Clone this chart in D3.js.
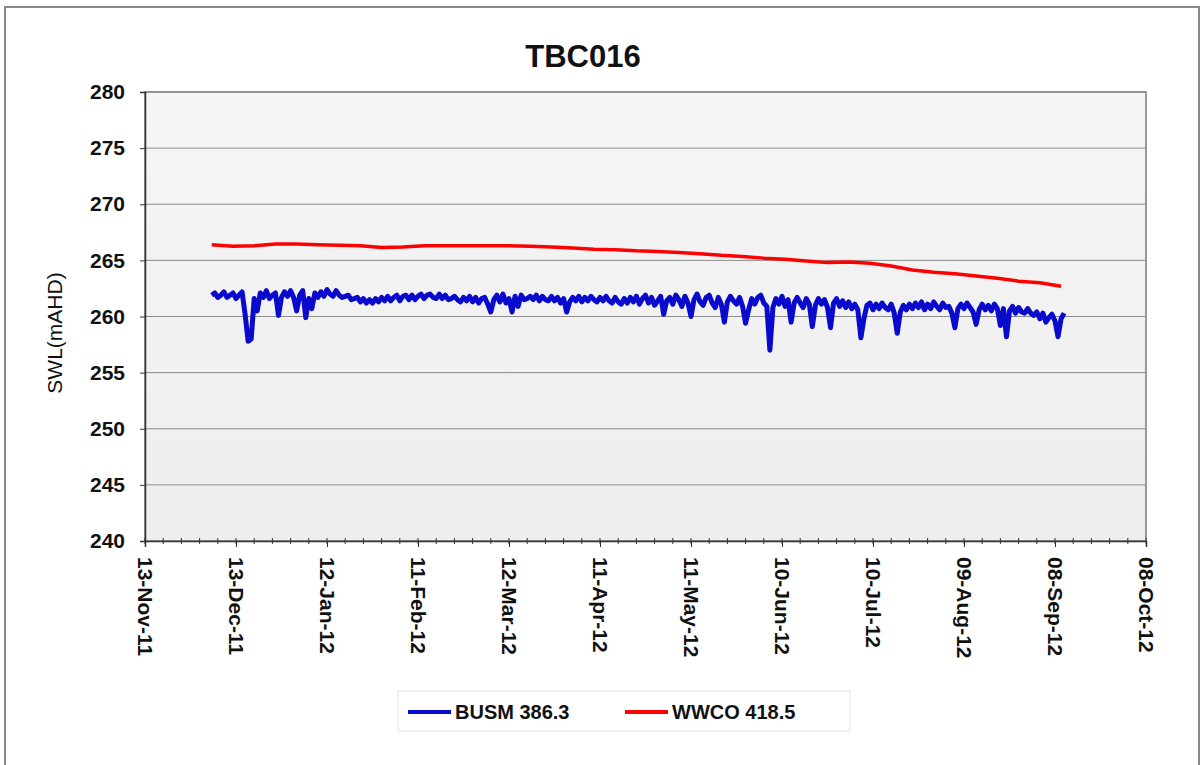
<!DOCTYPE html>
<html>
<head>
<meta charset="utf-8">
<script src="https://cdn.jsdelivr.net/npm/d3@7"></script>
<style>
  body { margin: 0; background: #fff; }
  svg { display: block; font-family: "Liberation Sans", Arial, sans-serif; }
</style>
</head>
<body>
<div id="chart"></div>
<script>
// chart data
const title = "TBC016";
const yLabel = "SWL(mAHD)";
const yTicks = [240, 245, 250, 255, 260, 265, 270, 275, 280];
const xTickLabels = ["13-Nov-11", "13-Dec-11", "12-Jan-12", "11-Feb-12", "12-Mar-12", "11-Apr-12",
    "11-May-12", "10-Jun-12", "10-Jul-12", "09-Aug-12", "08-Sep-12", "08-Oct-12"];
const seriesNames = ["BUSM 386.3", "WWCO 418.5"];

// BUSM: daily readings from 05-Dec-11
const busmStart = "05-Dec-11";
const busmValues = [
    261.9, 262.1, 261.7, 261.9, 262.2, 261.7, 261.9, 262.1, 261.6, 261.9,
    262.2, 260.2, 257.8, 258.0, 261.6, 260.5, 262.1, 261.7, 262.3, 261.6,
    261.9, 262.1, 260.1, 261.7, 262.2, 261.8, 262.3, 261.7, 260.5, 261.9,
    262.3, 259.9, 261.6, 260.7, 262.1, 261.7, 262.2, 261.8, 262.4, 262.0,
    261.8, 262.3, 261.9, 261.7, 261.8, 261.9, 261.5, 261.6, 261.7, 261.3,
    261.6, 261.2, 261.5, 261.2, 261.6, 261.3, 261.7, 261.4, 261.8, 261.4,
    261.7, 261.9, 261.4, 261.8, 261.9, 261.5, 261.9, 261.5, 261.8, 262.0,
    261.6, 261.9, 262.0, 261.7, 261.6, 262.0, 261.6, 261.9, 261.5, 261.6,
    261.8, 261.5, 261.3, 261.7, 261.4, 261.8, 261.3, 261.7, 261.2, 261.6,
    261.7, 261.1, 260.4, 261.5, 261.9, 261.3, 262.0, 261.2, 261.6, 260.4,
    261.8, 260.9, 261.9, 261.5, 261.6, 261.8, 261.5, 261.9, 261.4, 261.8,
    261.5, 261.4, 261.8, 261.4, 261.7, 261.2, 261.6, 260.4, 261.3, 261.7,
    261.4, 261.8, 261.3, 261.7, 261.4, 261.8, 261.5, 261.3, 261.7, 261.4,
    261.8, 261.4, 261.2, 261.7, 261.3, 261.1, 261.6, 261.2, 261.7, 261.3,
    261.8, 261.1, 261.6, 261.9, 261.2, 261.7, 261.0, 261.4, 261.8, 260.2,
    261.4, 261.7, 261.1, 261.9, 261.5, 260.9, 261.8, 261.2, 260.0, 261.5,
    262.0, 261.3, 261.0, 261.7, 261.9, 261.2, 260.8, 261.7, 261.1, 259.5,
    261.3, 261.8, 261.4, 261.1, 261.7, 260.9, 259.4, 260.6, 261.6, 261.1,
    261.7, 261.9, 261.2, 260.9, 257.0, 260.8, 261.6, 261.1, 261.8, 260.9,
    261.5, 259.5, 261.2, 261.7, 261.2, 260.8, 261.6, 261.1, 259.1, 261.0,
    261.6, 261.1, 261.5, 260.8, 259.0, 261.2, 261.6, 260.9, 261.4, 260.8,
    261.3, 260.7, 261.1, 260.6, 258.1, 259.8, 261.0, 261.2, 260.6, 261.1,
    260.7, 261.2, 260.8, 260.6, 261.1, 260.3, 258.5, 260.4, 261.0, 260.6,
    261.1, 260.7, 261.2, 260.8, 261.3, 260.6, 261.1, 260.7, 261.3, 260.9,
    260.6, 261.2, 260.8, 260.9, 260.3, 259.0, 260.7, 261.1, 260.7, 261.2,
    260.8, 260.4, 259.3, 260.6, 261.1, 260.6, 261.0, 260.5, 261.1, 260.7,
    259.2, 260.7, 258.2, 260.5, 260.9, 260.3, 260.8, 260.4, 260.3, 260.7,
    260.3, 260.1, 260.4, 259.8, 260.3, 259.5, 259.9, 260.2, 259.6, 258.2,
    259.8, 260.3
];

// WWCO: weekly readings from 05-Dec-11
const wwcoStart = "05-Dec-11";
const wwcoValues = [
    266.4, 266.25, 266.3, 266.45, 266.45, 266.4, 266.35, 266.3, 266.15, 266.2,
    266.3, 266.3, 266.3, 266.3, 266.3, 266.25, 266.2, 266.1, 266.0, 265.95,
    265.85, 265.8, 265.7, 265.6, 265.45, 265.35, 265.2, 265.1, 264.95, 264.8,
    264.85, 264.75, 264.5, 264.15, 263.95, 263.8, 263.6, 263.4, 263.15, 263.0,
    262.7
];

const parseDate = d3.utcParse("%d-%b-%y");
const busm = busmValues.map((v, i) => ({ date: d3.utcDay.offset(parseDate(busmStart), i), value: v }));
const wwco = wwcoValues.map((v, i) => ({ date: d3.utcDay.offset(parseDate(wwcoStart), i * 7), value: v }));
const xTickDates = xTickLabels.map(parseDate);

const width = 1203, height = 765;
const plot = { left: 145, right: 1146, top: 92, bottom: 541 };

const svg = d3.select("#chart").append("svg")
    .attr("width", width)
    .attr("height", height);

// outer frame
svg.append("rect")
    .attr("x", 5).attr("y", 7)
    .attr("width", 1194).attr("height", 775)
    .attr("fill", "#fff")
    .attr("stroke", "#8a8a8a")
    .attr("stroke-width", 2);

const x = d3.scaleUtc()
    .domain([xTickDates[0], xTickDates[xTickDates.length - 1]])
    .range([plot.left, plot.right]);

const y = d3.scaleLinear()
    .domain([240, 280])
    .range([plot.bottom, plot.top]);

// plot background
const grad = svg.append("defs").append("linearGradient")
    .attr("id", "bg").attr("x1", 0).attr("y1", 0).attr("x2", 0).attr("y2", 1);
grad.append("stop").attr("offset", "0%").attr("stop-color", "#f5f5f5");
grad.append("stop").attr("offset", "100%").attr("stop-color", "#eeeeee");

svg.append("rect")
    .attr("x", plot.left).attr("y", plot.top)
    .attr("width", plot.right - plot.left).attr("height", plot.bottom - plot.top)
    .attr("fill", "url(#bg)")
    .attr("stroke", "#7a7a7a")
    .attr("stroke-width", 1.5);

// gridlines
svg.append("g")
    .selectAll("line")
    .data(yTicks.slice(1))
    .join("line")
    .attr("x1", plot.left).attr("x2", plot.right)
    .attr("y1", d => y(d)).attr("y2", d => y(d))
    .attr("stroke", "#8c8c8c")
    .attr("stroke-width", 1);

// y axis
const yAxis = svg.append("g")
    .attr("transform", "translate(" + plot.left + ",0)")
    .call(d3.axisLeft(y).tickValues(yTicks).tickSize(5).tickPadding(15));
yAxis.select(".domain").attr("stroke", "#333").attr("stroke-width", 1.5);
yAxis.selectAll(".tick line").attr("stroke", "#333");
yAxis.selectAll(".tick text")
    .attr("font-size", 21)
    .attr("font-weight", "bold")
    .attr("fill", "#111")
    .attr("font-family", "Liberation Sans, Arial, sans-serif");

// x axis minor ticks (every 6 days)
const minorDates = d3.utcDay.range(xTickDates[0], d3.utcDay.offset(xTickDates[xTickDates.length - 1], 1), 6);
svg.append("g")
    .selectAll("line")
    .data(minorDates)
    .join("line")
    .attr("x1", d => x(d)).attr("x2", d => x(d))
    .attr("y1", plot.bottom - 3).attr("y2", plot.bottom + 3)
    .attr("stroke", "#333");

// x axis major ticks and labels
const xAxis = svg.append("g")
    .attr("transform", "translate(0," + plot.bottom + ")")
    .call(d3.axisBottom(x).tickValues(xTickDates).tickSize(6).tickFormat((d, i) => xTickLabels[i]));
xAxis.select(".domain").attr("stroke", "#333").attr("stroke-width", 1.5);
xAxis.selectAll(".tick line").attr("stroke", "#333");
xAxis.selectAll(".tick text")
    .attr("font-size", 21)
    .attr("font-weight", "bold")
    .attr("fill", "#111")
    .attr("font-family", "Liberation Sans, Arial, sans-serif")
    .attr("transform", "rotate(90)")
    .attr("x", 16)
    .attr("y", 0)
    .attr("dy", "0.35em")
    .style("text-anchor", "start");

// lines
const line = d3.line()
    .x(d => x(d.date))
    .y(d => y(d.value));

svg.append("path")
    .datum(wwco)
    .attr("fill", "none")
    .attr("stroke", "#ff0000")
    .attr("stroke-width", 3.5)
    .attr("stroke-linejoin", "round")
    .attr("d", line);

svg.append("path")
    .datum(busm)
    .attr("fill", "none")
    .attr("stroke", "#0a0acc")
    .attr("stroke-width", 5)
    .attr("stroke-linejoin", "round")
    .attr("d", line);

// title
svg.append("text")
    .attr("x", 583).attr("y", 67)
    .attr("text-anchor", "middle")
    .attr("font-size", 31)
    .attr("font-weight", "bold")
    .attr("fill", "#111")
    .text(title);

// y axis title
svg.append("text")
    .attr("transform", "translate(62,333) rotate(-90)")
    .attr("text-anchor", "middle")
    .attr("font-size", 21)
    .attr("fill", "#111")
    .text(yLabel);

// legend
const legend = svg.append("g");
legend.append("rect")
    .attr("x", 398).attr("y", 691)
    .attr("width", 452).attr("height", 40)
    .attr("fill", "#fff")
    .attr("stroke", "#e2e2e2");

const legendItems = [
    { name: seriesNames[0], color: "#0a0acc", x: 408 },
    { name: seriesNames[1], color: "#ff0000", x: 625 }
];
const li = legend.selectAll("g.item")
    .data(legendItems)
    .join("g")
    .attr("class", "item")
    .attr("transform", d => "translate(" + d.x + ",712)");
li.append("line")
    .attr("x1", 0).attr("x2", 43)
    .attr("stroke", d => d.color)
    .attr("stroke-width", 4);
li.append("text")
    .attr("x", 47)
    .attr("dy", "0.35em")
    .attr("font-size", 20)
    .attr("font-weight", "bold")
    .attr("fill", "#111")
    .text(d => d.name);
</script>
</body>
</html>
